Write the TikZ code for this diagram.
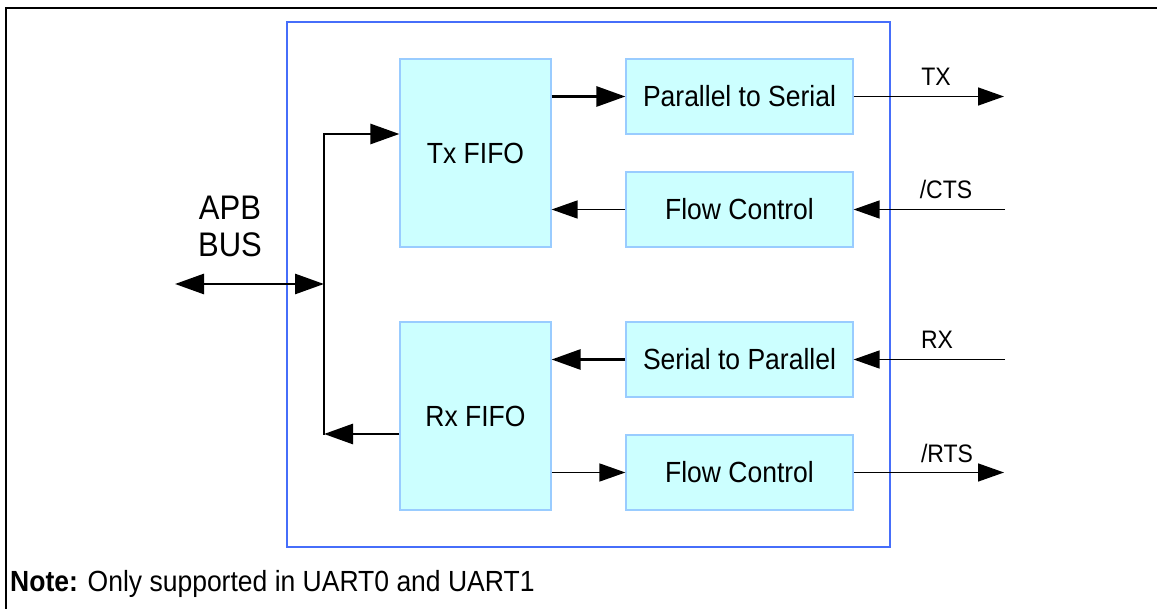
\documentclass[tikz,border=0pt]{standalone}
\usepackage{fontspec}
\usepackage{graphicx}
\setmainfont{Liberation Sans}
\usetikzlibrary{arrows.meta}
\definecolor{boxfill}{RGB}{204,255,255}
\definecolor{boxline}{RGB}{153,204,255}
\definecolor{outerblue}{RGB}{70,110,250}
\newcommand{\vst}[1]{\scalebox{1}[1.1]{#1}}
\tikzset{
  blk/.style={draw=boxline, fill=boxfill, line width=1.2pt, inner sep=0pt,
    font=\fontsize{26.5}{30}\selectfont},
  thk/.style={line width=2.8pt, -{Triangle[length=29pt,width=20pt]}},
  thn/.style={line width=1.5pt, -{Triangle[length=26pt,width=18pt]}},
  sig/.style={font=\fontsize{23}{26}\selectfont, inner sep=0pt}
}
\begin{document}
\begin{tikzpicture}[x=1pt,y=-1pt]
\useasboundingbox (0,0) rectangle (1157,609);
% outer frame (clipped)
\draw[line width=2pt] (1157,8) -- (6,8) -- (6,609);
% blue enclosure
\draw[outerblue, line width=2pt] (287,22) rectangle (890,547);
% blocks
\node[blk, minimum width=151pt, minimum height=188pt] (txf) at (475.5,153) {\vst{Tx FIFO}};
\node[blk, minimum width=151pt, minimum height=188pt] (rxf) at (475.5,416) {\vst{Rx FIFO}};
\node[blk, minimum width=227pt, minimum height=75pt] (p2s) at (739.5,96.5) {\vst{Parallel to Serial}};
\node[blk, minimum width=227pt, minimum height=75pt] (fc1) at (739.5,209.5) {\vst{Flow Control}};
\node[blk, minimum width=227pt, minimum height=75pt] (s2p) at (739.5,359.5) {\vst{Serial to Parallel}};
\node[blk, minimum width=227pt, minimum height=75pt] (fc2) at (739.5,472.5) {\vst{Flow Control}};
% external ends
\coordinate (txo) at (1004,96.5);
\coordinate (ctsi) at (1005,209.5);
\coordinate (rxi) at (1005,359.5);
\coordinate (rtso) at (1004,472.5);
% internal connections
\draw[thk] (p2s.west -| txf.east) -- (p2s.west);
\draw[thn] (fc1.west) -- (fc1.west -| txf.east);
\draw[thk] (s2p.west) -- (s2p.west -| rxf.east);
\draw[thn] (fc2.west -| rxf.east) -- (fc2.west);
% external connections
\draw[thn] (p2s.east) -- (txo);
\draw[thn] (ctsi) -- (fc1.east);
\draw[thn] (rxi) -- (s2p.east);
\draw[thn] (fc2.east) -- (rtso);
% signal labels
\node[sig] (ltx) at (936,77) {\vst{TX}};
\node[sig] (lcts) at (946,189) {\vst{/CTS}};
\node[sig] (lrx) at (937,340) {\vst{RX}};
\node[sig] (lrts) at (947,453) {\vst{/RTS}};
% bus
\coordinate (bt) at (324,134);
\coordinate (bb) at (324,434);
\coordinate (bj) at (324,284);
\coordinate (apb) at (175,284);
\draw[line width=2.8pt, line cap=rect] (bt) -- (bb);
\draw[thk] (bt) -- (bt -| txf.west);
\draw[thk] (bb -| rxf.west) -- (bb);
\draw[line width=2.8pt, {Triangle[length=29pt,width=20pt]}-{Triangle[length=29pt,width=20pt]}] (apb) -- (bj);
\node[inner sep=0pt, font=\fontsize{31}{37}\selectfont] (apbl) at (230,208) {\vst{APB}};
\node[inner sep=0pt, font=\fontsize{31}{37}\selectfont] (busl) at (230,245) {\vst{BUS}};
% note
\node[anchor=base west, inner sep=0pt, font=\fontsize{26.5}{30}\selectfont] (note) at (10,591) {\vst{\textbf{Note:} Only supported in UART0 and UART1}};
\end{tikzpicture}
\end{document}
